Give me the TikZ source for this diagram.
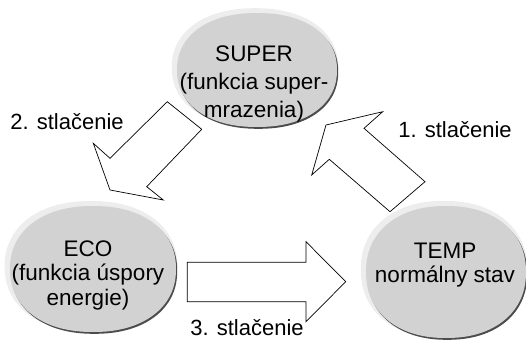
\documentclass[tikz,border=0pt]{standalone}
\usepackage{fontspec}
\setmainfont{Liberation Sans}

\tikzset{
    pics/blob/.style 2 args={
        code={
            \fill[gray!14] plot[smooth cycle,domain=2.5:357.5,samples=72,variable=\t]
                ({-2+1.04*#1*cos(\t)*pow(abs(cos(\t)),-0.09)},
                 {-2.5+1.04*#2*sin(\t)*pow(abs(sin(\t)),-0.09)});
            \fill[black!70] plot[smooth cycle,domain=2.5:357.5,samples=72,variable=\t]
                ({1.2+#1*cos(\t)*pow(abs(cos(\t)),-0.09)},
                 {1.8+#2*sin(\t)*pow(abs(sin(\t)),-0.09)});
            \fill[gray!35] plot[smooth cycle,domain=2.5:357.5,samples=72,variable=\t]
                ({#1*cos(\t)*pow(abs(cos(\t)),-0.09)},
                 {#2*sin(\t)*pow(abs(sin(\t)),-0.09)});
        }
    }
}

\begin{document}
\begin{tikzpicture}[
            x=1pt, y=-1pt,
            txt/.style={
                align=center,
                inner sep=0pt,
                font=\fontsize{22.5}{24.5}\selectfont
            },
            lbl/.style={txt,anchor=base,font=\fontsize{22}{24}\selectfont},
            blk/.style={draw,fill=white,line width=0.7pt,line join=miter}
        ]
            \useasboundingbox (0,0) rectangle (526,344);

            % block arrows
            \draw[blk] (326,125) -- (382.7,111.7) -- (364,128.3) -- (425,181.7)
                -- (390,211.7) -- (329.3,159.3) -- (311.7,175) -- cycle;
            \draw[blk] (110,190) -- (93.3,143.3) -- (110,158.3) -- (167.3,101.7)
                -- (201.7,129.3) -- (146.7,186.7) -- (163.3,200) -- cycle;
            \draw[blk] (345.7,281.7) -- (306,241.7) -- (306,262.3) -- (187.3,262.3)
                -- (187.3,301.7) -- (306,301.7) -- (306,321.7) -- cycle;

            % states
            \pic (superblob) at (257,70) {blob={80}{57}};
            \pic (ecoblob) at (93,269) {blob={83}{63}};
            \pic (tempblob) at (446,272) {blob={80}{66}};

            \node[txt,font=\fontsize{22.5}{28}\selectfont] (super) at (254,84)
            {SUPER\\(funkcia super-\\mrazenia)};
            \node[txt] (eco) at (88,275)
            {ECO\\(funkcia úspory\\energie)};
            \node[txt] (temp) at (445,265)
            {TEMP\\normálny stav};

            \node[lbl] (press1) at (455,138) {1. stlačenie};
            \node[lbl] (press2) at (67,130) {2. stlačenie};
            \node[lbl] (press3) at (247,335) {3. stlačenie};
        \end{tikzpicture}
\end{document}
